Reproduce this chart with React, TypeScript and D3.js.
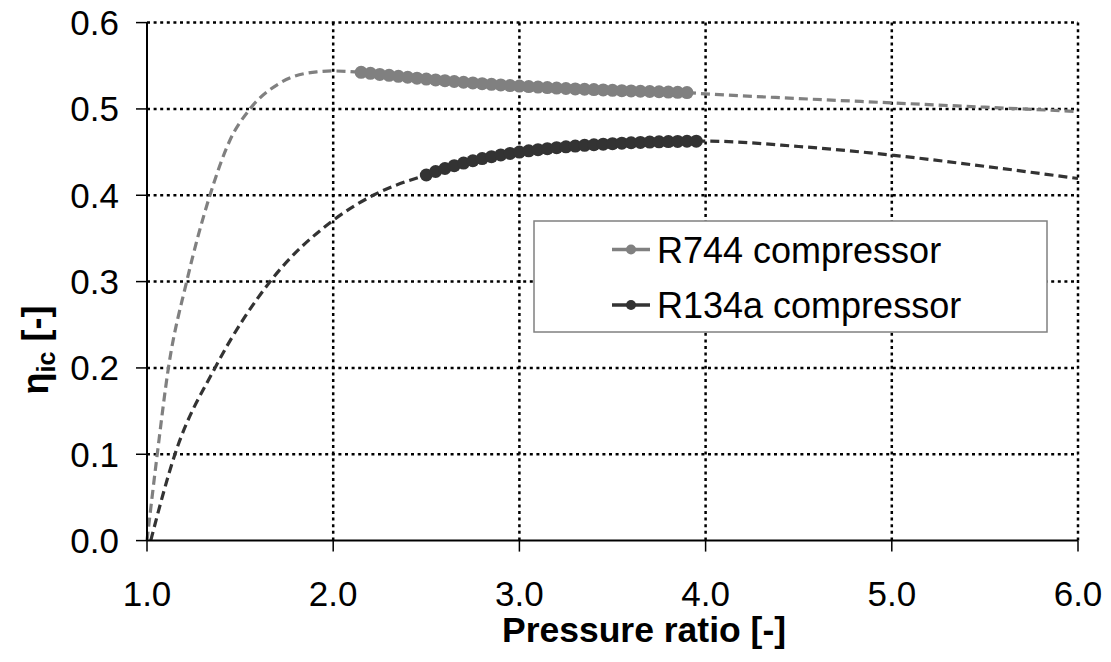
import React from "react";
import * as d3 from "d3";

const W = 1111;
const H = 662;

// axis ticks
const xTicks = [1.0, 2.0, 3.0, 4.0, 5.0, 6.0];
const yTicks = [0.0, 0.1, 0.2, 0.3, 0.4, 0.5, 0.6];

// R744 compressor: measured points (markers)
const r744X = [2.15, 2.2, 2.25, 2.3, 2.35, 2.4, 2.45, 2.5, 2.55, 2.6, 2.65, 2.7, 2.75, 2.8, 2.85, 2.9, 2.95, 3.0, 3.05, 3.1, 3.15, 3.2, 3.25, 3.3, 3.35, 3.4, 3.45, 3.5, 3.55, 3.6, 3.65, 3.7, 3.75, 3.8, 3.85, 3.9];
const r744Y = [0.5424, 0.5412, 0.54, 0.5389, 0.5378, 0.5367, 0.5356, 0.5346, 0.5336, 0.5327, 0.5318, 0.5309, 0.5301, 0.5293, 0.5285, 0.5278, 0.5271, 0.5265, 0.5259, 0.5253, 0.5247, 0.5242, 0.5237, 0.5232, 0.5228, 0.5224, 0.522, 0.5216, 0.5212, 0.5209, 0.5205, 0.5202, 0.5199, 0.5195, 0.5192, 0.5189];

// R744 extrapolated (dashed)
const r744LowX = [1.0, 1.055, 1.115, 1.213, 1.338, 1.446, 1.553, 1.714, 1.911, 2.0, 2.15];
const r744LowY = [0.0, 0.1, 0.2, 0.3, 0.4, 0.464, 0.5, 0.53, 0.543, 0.544, 0.5424];
const r744HighX = [3.9, 4.0, 4.5, 5.0, 5.5, 6.0];
const r744HighY = [0.5189, 0.5175, 0.512, 0.507, 0.502, 0.497];

// R134a compressor: measured points (markers)
const r134X = [2.5, 2.55, 2.6, 2.65, 2.7, 2.75, 2.8, 2.85, 2.9, 2.95, 3.0, 3.05, 3.1, 3.15, 3.2, 3.25, 3.3, 3.35, 3.4, 3.45, 3.5, 3.55, 3.6, 3.65, 3.7, 3.75, 3.8, 3.85, 3.9, 3.95];
const r134Y = [0.4235, 0.4275, 0.431, 0.4343, 0.4373, 0.44, 0.4425, 0.4447, 0.4467, 0.4485, 0.45, 0.4515, 0.4528, 0.454, 0.4551, 0.4561, 0.457, 0.4578, 0.4585, 0.4592, 0.4598, 0.4603, 0.4608, 0.4612, 0.4616, 0.4619, 0.4622, 0.4624, 0.4626, 0.4627];

// R134a extrapolated (dashed)
const r134LowX = [1.02, 1.15, 1.365, 1.661, 2.0, 2.215, 2.5];
const r134LowY = [0.0, 0.1, 0.2, 0.3, 0.371, 0.4, 0.4235];
const r134HighX = [3.95, 4.0, 4.5, 5.0, 5.5, 6.0];
const r134HighY = [0.4627, 0.4627, 0.4565, 0.4465, 0.4335, 0.4194];

const seriesNames = ["R744 compressor", "R134a compressor"];
const seriesColors = ["#808080", "#333333"];

const zip = (xs: number[], ys: number[]) => xs.map((x, i) => [x, ys[i]] as [number, number]);

export default function App() {
  const left = 147, right = 1078, top = 22.6, bottom = 540.6;
  const x = d3.scaleLinear().domain([1, 6]).range([left, right]);
  const y = d3.scaleLinear().domain([0, 0.6]).range([bottom, top]);
  const line = d3.line<[number, number]>().x(d => x(d[0])).y(d => y(d[1])).curve(d3.curveMonotoneX);
  const lineLin = d3.line<[number, number]>().x(d => x(d[0])).y(d => y(d[1]));

  const font = "Arial, 'Liberation Sans', sans-serif";
  const tickFs = 35;

  const series = [
    { low: zip(r744LowX, r744LowY), high: zip(r744HighX, r744HighY), pts: zip(r744X, r744Y), color: seriesColors[0] },
    { low: zip(r134LowX, r134LowY), high: zip(r134HighX, r134HighY), pts: zip(r134X, r134Y), color: seriesColors[1] },
  ];

  const legend = { x0: 534, y0: 221, x1: 1047, y1: 332 };
  const legendRows = [249.5, 305];

  return (
    <svg width={W} height={H} style={{ position: "absolute", left: 0, top: 0, background: "#fff" }} fontFamily={font}>
      <rect x={0} y={0} width={W} height={H} fill="#fff" />
      {/* grid */}
      {yTicks.filter(t => t > 0).map(t => (
        <line key={"gy" + t} x1={left} x2={right} y1={y(t)} y2={y(t)} stroke="#000" strokeWidth={2.5} strokeDasharray="3,3.6" />
      ))}
      {xTicks.filter(t => t > 1).map(t => (
        <line key={"gx" + t} x1={x(t)} x2={x(t)} y1={top} y2={bottom} stroke="#000" strokeWidth={2.5} strokeDasharray="3,3.6" />
      ))}

      {/* series */}
      {series.map((s, i) => (
        <g key={"s" + i}>
          <path d={line(s.low) || ""} fill="none" stroke={s.color} strokeWidth={3.2} strokeDasharray="9,5" />
          <path d={line(s.high) || ""} fill="none" stroke={s.color} strokeWidth={3.2} strokeDasharray="9,5" />
          <path d={lineLin(s.pts) || ""} fill="none" stroke={s.color} strokeWidth={3} />
          {s.pts.map((p, j) => (
            <circle key={j} cx={x(p[0])} cy={y(p[1])} r={6.5} fill={s.color} />
          ))}
        </g>
      ))}

      {/* axes */}
      <line x1={left} x2={left} y1={top} y2={bottom} stroke="#000" strokeWidth={2} />
      <line x1={left} x2={right} y1={bottom} y2={bottom} stroke="#000" strokeWidth={2} />
      {yTicks.map(t => (
        <g key={"yt" + t}>
          <line x1={left - 11} x2={left} y1={y(t)} y2={y(t)} stroke="#000" strokeWidth={1.5} />
          <text x={119} y={y(t) + 12.5} textAnchor="end" fontSize={tickFs} fill="#000">{t.toFixed(1)}</text>
        </g>
      ))}
      {xTicks.map(t => (
        <g key={"xt" + t}>
          <line x1={x(t)} x2={x(t)} y1={bottom} y2={bottom + 11} stroke="#000" strokeWidth={1.5} />
          <text x={x(t)} y={606} textAnchor="middle" fontSize={tickFs} fill="#000">{t.toFixed(1)}</text>
        </g>
      ))}

      {/* axis titles */}
      <text x={644} y={642} textAnchor="middle" fontSize={35.5} fontWeight="bold" fill="#000">Pressure ratio [-]</text>
      <text transform="translate(48,350) rotate(-90)" textAnchor="middle" fontSize={36} fontWeight="bold" fill="#000">
        η<tspan fontSize={25} dy={7}>ic</tspan><tspan dy={-7}> [-]</tspan>
      </text>

      {/* legend */}
      <rect x={legend.x0} y={legend.y0} width={legend.x1 - legend.x0} height={legend.y1 - legend.y0} fill="#fff" stroke="#808080" strokeWidth={1.5} />
      {seriesNames.map((n, i) => (
        <g key={"lg" + i}>
          <line x1={612} x2={650} y1={legendRows[i]} y2={legendRows[i]} stroke={seriesColors[i]} strokeWidth={3.5} />
          <circle cx={631} cy={legendRows[i]} r={5} fill={seriesColors[i]} />
          <text x={657} y={legendRows[i] + 13} fontSize={36} fill="#000">{n}</text>
        </g>
      ))}
    </svg>
  );
}
